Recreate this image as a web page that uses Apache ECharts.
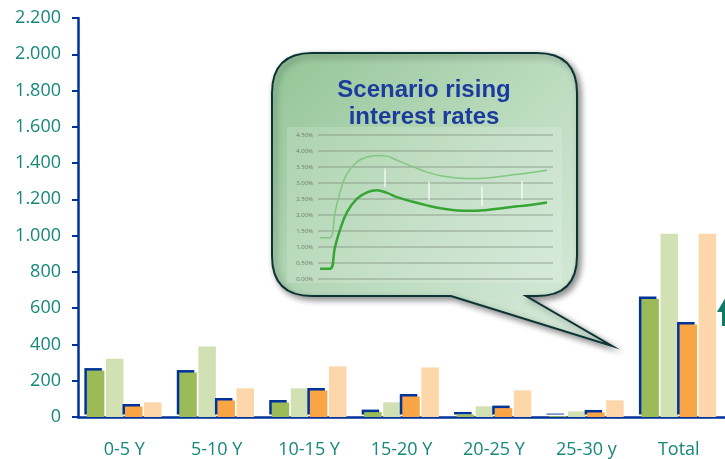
<!DOCTYPE html>
<html>
<head>
<meta charset="utf-8">
<script src="https://cdn.jsdelivr.net/npm/echarts@6/dist/echarts.min.js"></script>
<style>
  html, body { margin: 0; padding: 0; background: #ffffff; }
  #chart { width: 725px; height: 459px; }
</style>
</head>
<body>
<div id="chart"></div>
<script>
// Maturity buckets on the x axis
const categories = ['0-5 Y', '5-10 Y', '10-15 Y', '15-20 Y', '20-25 Y', '25-30 y', 'Total'];

// Bar values per bucket
const assetsBase  = [256, 245,  80,  27,  14,  5,  650];
const assetsShock = [321, 389, 158,  81,  59, 31, 1010];
const liabBase    = [ 58,  91, 146, 113,  49, 25,  510];
const liabShock   = [ 81, 158, 279, 273, 147, 92, 1010];

// Y axis range
const yMax = 2200;
const yStep = 200;

// Small rate curve shown in the callout
const insetMonths = [0, 10, 15, 20, 27, 37, 47, 57, 67, 77, 92, 107, 122, 137, 152, 167, 182, 197, 212, 227];
const rateUpper = [1.29, 1.29, 2.07, 2.71, 3.29, 3.66, 3.81, 3.86, 3.84, 3.71, 3.52, 3.34, 3.22, 3.16, 3.14, 3.16, 3.21, 3.27, 3.33, 3.40];
const rateLower = [0.32, 0.32, 1.00, 1.54, 2.09, 2.51, 2.71, 2.77, 2.69, 2.56, 2.42, 2.30, 2.20, 2.14, 2.13, 2.16, 2.21, 2.27, 2.32, 2.39];
const insetMarkX = [65, 109, 162, 202];
const insetMarkTop = [3.45, 3.03, 2.88, 3.06];
const insetMarkBottom = [2.87, 2.47, 2.28, 2.49];

const AXIS_BLUE = '#003399';
const LABEL_TEAL = '#16877a';
const FONT = '"Open Sans", "Noto Sans", sans-serif';

function thousands(v) {
  if (v >= 1000) {
    return Math.floor(v / 1000) + '.' + String(v % 1000).padStart(3, '0');
  }
  return String(v);
}

const pair = (xs, ys) => xs.map((x, i) => [x, ys[i]]);

// Hard offset shadow gives the solid bars a blue edge on the top and left sides
const edgedBar = color => ({
  color,
  shadowColor: AXIS_BLUE,
  shadowBlur: 0,
  shadowOffsetX: -2.5,
  shadowOffsetY: -2.5
});

const chart = echarts.init(document.getElementById('chart'), null, { renderer: 'canvas' });

// Speech bubble outline: rounded box with a tail pointing down-right
const bubblePath =
  'M 312 53 L 537 53 Q 577 53 577 93 L 577 256 Q 577 296 537 296 ' +
  'L 526 296 L 612 346 L 451 296 L 312 296 Q 272 296 272 256 ' +
  'L 272 93 Q 272 53 312 53 Z';

const bubbleFill = {
  type: 'linear', x: 0, y: 0, x2: 1, y2: 1,
  colorStops: [
    { offset: 0, color: '#94c597' },
    { offset: 0.5, color: '#bbdbbe' },
    { offset: 1, color: '#dcede0' }
  ]
};

const option = {
  animation: false,
  backgroundColor: '#ffffff',
  grid: [
    { left: 78, top: 18, right: 0, height: 400 },
    { left: 318, top: 135, width: 235, height: 144 }
  ],
  xAxis: [
    {
      gridIndex: 0,
      type: 'category',
      data: categories,
      axisLine: { lineStyle: { color: AXIS_BLUE, width: 2.5 } },
      axisTick: { show: false },
      axisLabel: { color: LABEL_TEAL, fontSize: 18, fontFamily: FONT, margin: 24 }
    },
    {
      gridIndex: 1,
      type: 'value',
      min: -2,
      max: 233,
      show: false,
      splitLine: { show: false }
    }
  ],
  yAxis: [
    {
      gridIndex: 0,
      type: 'value',
      min: 0,
      max: yMax,
      interval: yStep,
      axisLine: { show: true, lineStyle: { color: AXIS_BLUE, width: 2.5 } },
      axisTick: { show: true, length: 6, lineStyle: { color: AXIS_BLUE, width: 2 } },
      splitLine: { show: false },
      axisLabel: {
        color: LABEL_TEAL, fontSize: 18, fontFamily: FONT, margin: 17,
        formatter: thousands
      }
    },
    {
      gridIndex: 1,
      type: 'value',
      min: 0,
      max: 4.5,
      interval: 0.5,
      z: 5,
      axisLine: { show: false },
      axisTick: { show: false },
      splitLine: { show: true, lineStyle: { color: 'rgba(120,130,120,0.45)', width: 1.5 } },
      axisLabel: {
        color: '#6f7a6f', fontSize: 6, fontFamily: FONT, margin: 5,
        formatter: v => v.toFixed(2) + '%'
      }
    }
  ],
  series: [
    {
      name: 'Callout',
      type: 'custom',
      coordinateSystem: 'none',
      z: 1,
      silent: true,
      data: [0],
      renderItem: () => ({
        type: 'path',
        shape: { pathData: bubblePath },
        style: {
          fill: bubbleFill,
          stroke: '#0b3535',
          lineWidth: 2,
          shadowBlur: 6,
          shadowOffsetX: 3,
          shadowOffsetY: 3,
          shadowColor: 'rgba(0,0,0,0.45)'
        }
      })
    },
    {
      name: 'Assets',
      type: 'bar',
      data: assetsBase,
      barWidth: 17.5,
      barGap: '9%',
      itemStyle: edgedBar('#9bbb59')
    },
    {
      name: 'Assets, rising rates',
      type: 'bar',
      data: assetsShock,
      barWidth: 17.5,
      barGap: '9%',
      itemStyle: { color: '#d1e1b4' }
    },
    {
      name: 'Liabilities',
      type: 'bar',
      data: liabBase,
      barWidth: 17.5,
      barGap: '9%',
      itemStyle: edgedBar('#f9a445')
    },
    {
      name: 'Liabilities, rising rates',
      type: 'bar',
      data: liabShock,
      barWidth: 17.5,
      barGap: '9%',
      itemStyle: { color: '#fdd6a9' }
    },
    {
      name: 'Rate path, upper',
      type: 'line',
      xAxisIndex: 1,
      yAxisIndex: 1,
      z: 6,
      data: pair(insetMonths, rateUpper),
      smooth: 0.4,
      showSymbol: false,
      lineStyle: { color: '#82c780', width: 1.5 }
    },
    {
      name: 'Rate path, lower',
      type: 'line',
      xAxisIndex: 1,
      yAxisIndex: 1,
      z: 6,
      data: pair(insetMonths, rateLower),
      smooth: 0.4,
      showSymbol: false,
      lineStyle: { color: '#36a536', width: 2.5 }
    },
    {
      name: 'Rate ranges',
      type: 'custom',
      xAxisIndex: 1,
      yAxisIndex: 1,
      z: 7,
      data: insetMarkX.map((x, i) => [x, insetMarkTop[i], insetMarkBottom[i]]),
      renderItem: (params, api) => {
        const top = api.coord([api.value(0), api.value(1)]);
        const bottom = api.coord([api.value(0), api.value(2)]);
        return {
          type: 'line',
          shape: { x1: top[0], y1: top[1], x2: bottom[0], y2: bottom[1] },
          style: { stroke: '#ffffff', lineWidth: 1.2 }
        };
      }
    }
  ],
  graphic: [
    {
      type: 'rect',
      z: 2,
      shape: { x: 287, y: 127, width: 275, height: 156 },
      style: { fill: 'rgba(255,255,255,0.16)' }
    },
    {
      type: 'text',
      z: 3,
      x: 424,
      y: 90,
      style: {
        text: 'Scenario rising',
        fill: '#1b3c9c',
        font: 'bold 24px "Liberation Sans", Arial, sans-serif',
        align: 'center',
        verticalAlign: 'middle'
      }
    },
    {
      type: 'text',
      z: 3,
      x: 424,
      y: 117,
      style: {
        text: 'interest rates',
        fill: '#1b3c9c',
        font: 'bold 24px "Liberation Sans", Arial, sans-serif',
        align: 'center',
        verticalAlign: 'middle'
      }
    },
    {
      type: 'polygon',
      z: 3,
      shape: {
        points: [[717, 312], [727, 295], [737, 312], [731, 312], [731, 326], [722, 326], [722, 312]]
      },
      style: { fill: '#0e7a68' }
    }
  ]
};

chart.setOption(option);
</script>
</body>
</html>
